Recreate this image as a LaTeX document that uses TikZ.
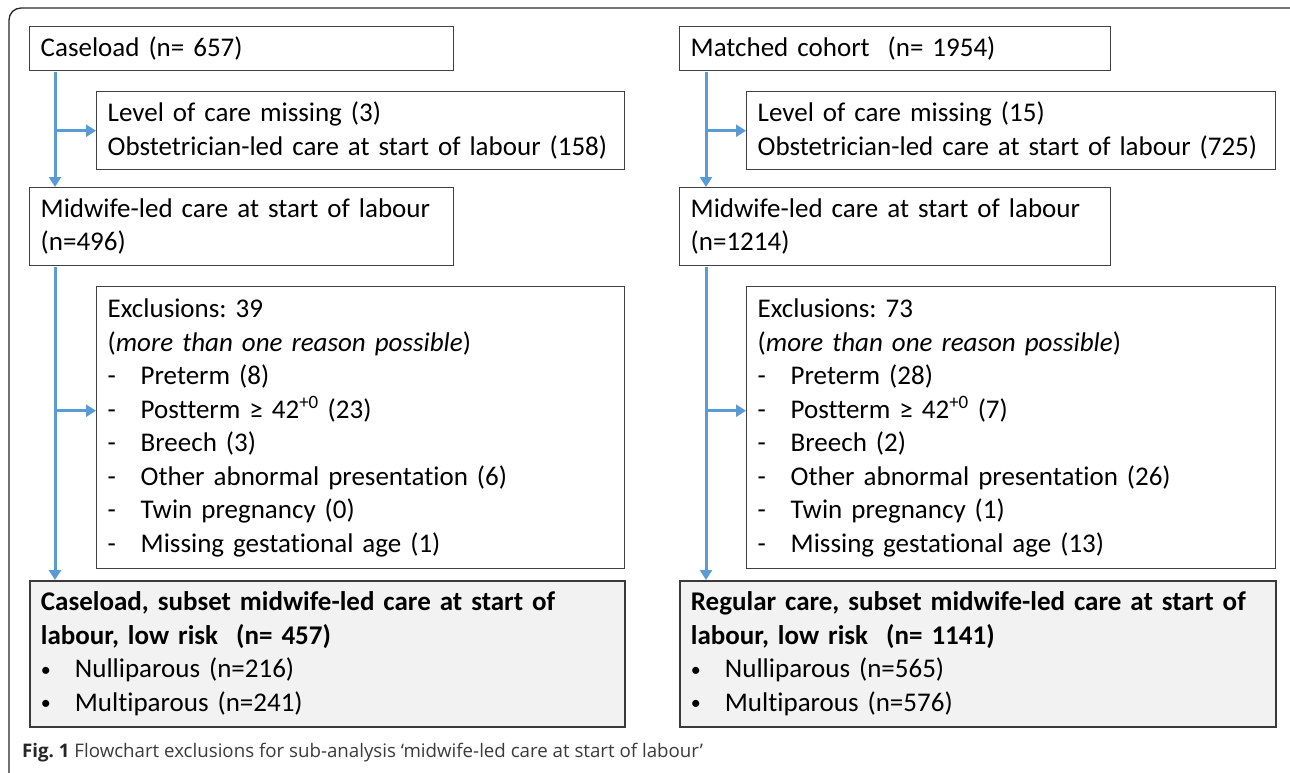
\documentclass[tikz,border=0pt]{standalone}
\usepackage{fontspec}
\setmainfont{Carlito}[Ligatures=NoCommon]
\newfontfamily\capfont{Open Sans}
\usetikzlibrary{arrows.meta,calc}
\frenchspacing
\definecolor{flowblue}{HTML}{5B9BD5}
\definecolor{boxline}{HTML}{404040}
\definecolor{finalfill}{HTML}{F2F2F2}
\definecolor{captxt}{HTML}{3A3A3A}
\tikzset{
  box/.style={draw=boxline, line width=1.4pt, rectangle, anchor=north west,
    inner xsep=11pt, inner ysep=0pt, align=left,
    font=\fontsize{27}{33.5}\selectfont},
  finalbox/.style={box, fill=finalfill, line width=1.8pt, draw=boxline!90!black},
  flow/.style={draw=flowblue, line width=3pt,
    -{Triangle[width=12pt,length=10pt]}},
  frame/.style={draw=black!85, line width=1.3pt, rounded corners=12pt},
}
\newcommand{\dashitem}[1]{\makebox[33pt][l]{-}#1}
\newcommand{\bulitem}[1]{\makebox[34pt][l]{\raisebox{1.5pt}{\fontsize{20}{20}\selectfont\textbullet}}#1}
\begin{document}
\begin{tikzpicture}[x=1pt,y=1pt]
\clip (0,0) rectangle (1290,-772);
\draw[frame] (9,-8) rectangle (1320,-800);

% left column
\node[box, text width=402pt, minimum height=44pt] (case) at (29,-26) {Caseload (n= 657)};
\node[box, text width=506pt, minimum height=78pt] (lvl) at (96,-91) {Level of care missing (3)\\Obstetrician-led care at start of labour (158)};
\node[box, text width=402pt, minimum height=78pt] (mid) at (29,-187) {Midwife-led care at start of labour\\(n=496)};
\node[box, text width=506pt, minimum height=282pt] (excl) at (96,-286) {Exclusions: 39\\(\textit{more than one reason possible})\\
\dashitem{Preterm (8)}\\
\dashitem{Postterm ≥ 42\textsuperscript{+0} (23)}\\
\dashitem{Breech (3)}\\
\dashitem{Other abnormal presentation (6)}\\
\dashitem{Twin pregnancy (0)}\\
\dashitem{Missing gestational age (1)}};
\node[finalbox, text width=573pt, minimum height=146pt] (fin) at (29,-580) {\textbf{Caseload, subset midwife-led care at start of}\\\textbf{labour, low risk\ \ (n= 457)}\\
\bulitem{Nulliparous (n=216)}\\
\bulitem{Multiparous (n=241)}};

% right column
\node[box, text width=409pt, minimum height=44pt] (case2) at (679,-26) {Matched cohort\ \ (n= 1954)};
\node[box, text width=507pt, minimum height=78pt] (lvl2) at (746,-91) {Level of care missing (15)\\Obstetrician-led care at start of labour (725)};
\node[box, text width=409pt, minimum height=78pt] (mid2) at (679,-187) {Midwife-led care at start of labour\\(n=1214)};
\node[box, text width=507pt, minimum height=282pt] (excl2) at (746,-286) {Exclusions: 73\\(\textit{more than one reason possible})\\
\dashitem{Preterm (28)}\\
\dashitem{Postterm ≥ 42\textsuperscript{+0} (7)}\\
\dashitem{Breech (2)}\\
\dashitem{Other abnormal presentation (26)}\\
\dashitem{Twin pregnancy (1)}\\
\dashitem{Missing gestational age (13)}};
\node[finalbox, text width=574pt, minimum height=146pt] (fin2) at (679,-580) {\textbf{Regular care, subset midwife-led care at start of}\\\textbf{labour, low risk\ \ (n= 1141)}\\
\bulitem{Nulliparous (n=565)}\\
\bulitem{Multiparous (n=576)}};

% connectors left
\coordinate (ta) at ($(case.south west)+(26,-1)$);
\draw[flow] (ta) -- (ta |- mid.north);
\draw[flow] (ta |- lvl.west) -- (lvl.west);
\coordinate (tb) at ($(mid.south west)+(26,-1)$);
\draw[flow] (tb) -- (tb |- fin.north);
\draw[flow] ($(tb |- excl.west)+(0,17)$) -- ($(excl.west)+(0,17)$);

% connectors right
\coordinate (tc) at ($(case2.south west)+(27,-1)$);
\draw[flow] (tc) -- (tc |- mid2.north);
\draw[flow] (tc |- lvl2.west) -- (lvl2.west);
\coordinate (td) at ($(mid2.south west)+(27,-1)$);
\draw[flow] (td) -- (td |- fin2.north);
\draw[flow] ($(td |- excl2.west)+(0,17)$) -- ($(excl2.west)+(0,17)$);

% caption
\node[anchor=base west, inner sep=0pt, font=\capfont\fontsize{18.7}{20}\selectfont, text=captxt] (cap) at (22,-757)
  {\textbf{\color{black!85}Fig. 1} Flowchart exclusions for sub-analysis ‘midwife-led care at start of labour’};
\end{tikzpicture}
\end{document}
